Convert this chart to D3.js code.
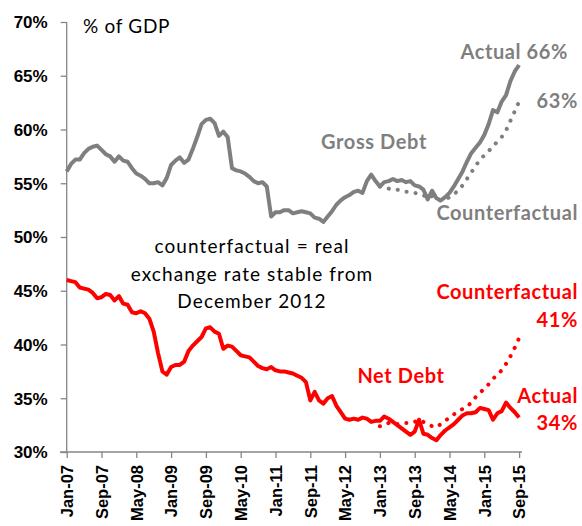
<!DOCTYPE html>
<html><head><meta charset="utf-8">
<script src="https://cdn.jsdelivr.net/npm/d3@7"></script>
<style>
html,body{margin:0;padding:0;background:#fff;}
svg{display:block;font-family:Lato, "Open Sans", sans-serif;}
</style></head>
<body><svg id="c" width="582" height="526"></svg>
<script>
// Monthly data, Jan-2007 (index 0) to Sep-2015 (index 104)
const tickLabels = ["Jan-07","Sep-07","May-08","Jan-09","Sep-09","May-10","Jan-11","Sep-11","May-12","Jan-13","Sep-13","May-14","Jan-15","Sep-15"];
const yTicks = [30,35,40,45,50,55,60,65,70];
const grossActual = [56.1,56.8,57.2,57.2,57.8,58.2,58.4,58.5,58.1,57.7,57.5,57.0,57.5,57.1,57.0,56.4,55.9,55.7,55.4,55.0,
55.0,55.1,54.8,55.5,56.7,57.1,57.4,56.9,57.2,58.2,59.3,60.5,60.9,61.0,60.6,59.4,59.8,59.3,56.4,56.2,
56.1,55.9,55.6,55.2,55.0,55.1,54.7,51.9,52.3,52.3,52.5,52.5,52.2,52.3,52.4,52.3,52.2,51.8,51.7,51.4,
51.9,52.4,53.0,53.4,53.7,53.9,54.2,54.3,54.1,55.2,55.8,55.2,54.7,55.1,55.2,55.4,55.2,55.3,55.1,55.2,
54.8,54.7,54.4,53.5,54.3,53.6,53.4,53.7,54.1,54.7,55.4,56.1,57.0,57.8,58.3,58.8,59.5,60.5,61.8,61.6,
62.6,63.2,64.5,65.4,66.0];
const netActual = [46.0,45.9,45.8,45.3,45.2,45.1,44.8,44.3,44.4,44.7,44.6,44.1,44.5,43.8,43.7,43.0,42.9,43.1,42.9,42.4,
41.2,39.2,37.5,37.2,37.9,38.1,38.1,38.4,39.4,39.9,40.3,40.7,41.5,41.6,41.2,41.0,39.6,39.9,39.8,39.4,
39.0,38.9,38.8,38.4,38.0,37.8,37.7,37.9,37.6,37.5,37.5,37.4,37.3,37.1,36.9,36.5,34.8,35.6,34.8,34.5,
35.0,35.2,34.3,33.7,33.1,33.0,33.1,33.0,33.2,33.1,32.8,32.9,32.9,33.3,33.1,32.8,32.5,32.2,31.9,31.6,
31.9,33.0,31.7,31.6,31.3,31.1,31.6,32.0,32.3,32.6,33.0,33.4,33.6,33.6,33.7,34.1,34.0,33.9,33.0,33.6,
33.8,34.6,34.1,33.7,33.2];
// Counterfactuals, Jan-2013 (index 72) to Sep-2015
const cfStart = 72;
const grossCounterfactual = [54.7,54.6,54.5,54.4,54.4,54.3,54.2,54.2,54.1,54.0,53.9,53.6,53.8,53.5,53.4,53.5,53.7,54.0,54.3,54.8,
55.4,56.0,56.6,57.2,57.6,58.0,58.4,58.9,59.3,59.9,60.8,61.7,62.6];
const netCounterfactual = [32.4,32.5,32.7,32.7,32.6,32.6,32.7,32.7,32.8,33.0,32.8,32.6,32.4,32.3,32.6,32.9,33.2,33.5,33.8,34.0,
34.2,34.6,35.1,35.5,35.9,36.3,36.8,37.2,37.6,38.2,38.9,39.7,40.6];

const svg = d3.select("#c");
const x = d3.scaleLinear().domain([0,104]).range([66.7,519.1]);
const y = d3.scaleLinear().domain([30,70]).range([452,22]);
const GRAY = "#7f7f7f", RED = "#ff0000", AX = "#868686";

// axes
const yAxis = svg.append("g").attr("transform","translate(66.7,0)")
  .call(d3.axisLeft(y).tickValues(yTicks).tickSize(6).tickFormat(d=>d+"%"));
yAxis.select(".domain").attr("stroke",AX).attr("stroke-width",1.3).attr("d","M0,22V452");
yAxis.selectAll(".tick line").attr("stroke",AX).attr("stroke-width",1.3);
yAxis.selectAll(".tick text").attr("x",-19).attr("fill","#000").style("font-size","17px").style("font-weight","bold").attr("dy","0.35em");

const xAxis = svg.append("g").attr("transform","translate(0,452)")
  .call(d3.axisBottom(x).tickValues(d3.range(0,105,8)).tickSize(6).tickFormat((d,i)=>tickLabels[i]));
xAxis.select(".domain").attr("stroke",AX).attr("stroke-width",1.3).attr("d","M60,0H522");
xAxis.selectAll(".tick line").attr("stroke",AX).attr("stroke-width",1.3);
xAxis.selectAll(".tick text").attr("fill","#000").style("font-size","16.5px").style("font-weight","bold")
  .attr("transform","rotate(-90)").attr("text-anchor","end").attr("x",-13).attr("y",0).attr("dy","0.35em");

const line = d3.line().x(d=>x(d[0])).y(d=>y(d[1]));
const idx = a => a.map((v,i)=>[i,v]);
const idxCf = a => a.map((v,i)=>[i+cfStart,v]);

function dotted(data,color){
  svg.append("path").attr("d",line(data)).attr("fill","none").attr("stroke",color)
    .attr("stroke-width",4).attr("stroke-linecap","round").attr("stroke-dasharray","0.1 9");
}
function solid(data,color){
  svg.append("path").attr("d",line(data)).attr("fill","none").attr("stroke",color)
    .attr("stroke-width",4).attr("stroke-linejoin","round");
}
dotted(idxCf(grossCounterfactual),GRAY);
dotted(idxCf(netCounterfactual),RED);
solid(idx(grossActual),GRAY);
solid(idx(netActual),RED);

// texts
function txt(s,xx,yy,opt){
  const t = svg.append("text").attr("x",xx).attr("y",yy).text(s)
    .attr("fill",opt.fill||"#000").style("font-size",(opt.size||18)+"px")
    .style("font-family",opt.font||null)
    .style("letter-spacing",opt.ls!=null?opt.ls+"px":null)
    .style("font-weight",opt.bold?"bold":"normal").attr("text-anchor",opt.anchor||"start");
  return t;
}
const N = {size:19, font:"Lato", ls:1.1};
txt("% of GDP",83,33,{...N, ls:0.7});
txt("counterfactual = real",252,253,{...N,anchor:"middle"});
txt("exchange rate stable from",252,281,{...N,anchor:"middle"});
txt("December 2012",252,308,{...N,anchor:"middle"});
const B = {bold:true,size:20,font:"Lato",ls:0.6};
txt("Gross Debt",374,149,{...B,fill:GRAY,anchor:"middle"});
txt("Actual 66%",568,59,{...B,fill:GRAY,anchor:"end"});
txt("63%",578,108,{...B,fill:GRAY,anchor:"end"});
txt("Counterfactual",578,220,{...B,fill:GRAY,anchor:"end"});
txt("Counterfactual",578,299,{...B,fill:RED,anchor:"end"});
txt("41%",578,327,{...B,fill:RED,anchor:"end"});
txt("Net Debt",401,383,{...B,fill:RED,anchor:"middle"});
txt("Actual",578,403,{...B,fill:RED,anchor:"end"});
txt("34%",578,430,{...B,fill:RED,anchor:"end"});
</script></body></html>
